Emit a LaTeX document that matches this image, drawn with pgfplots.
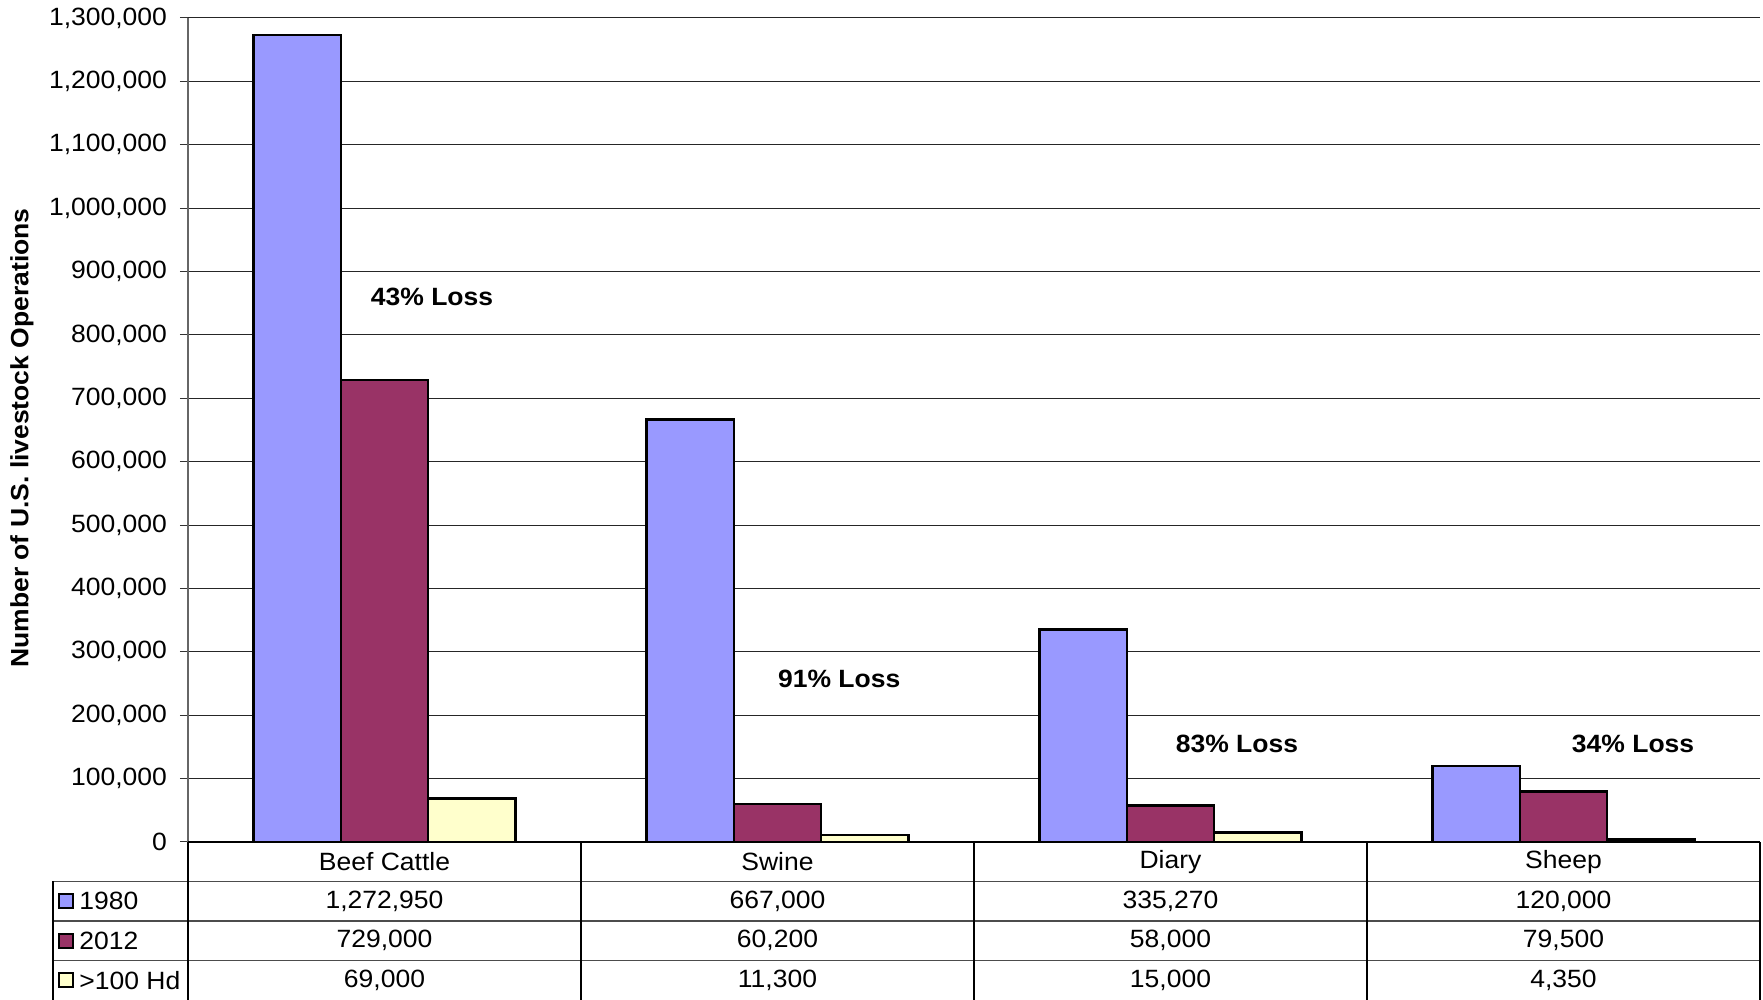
\documentclass[border=0pt]{standalone}
\usepackage{pgfplots}
\pgfplotsset{compat=1.18}
\usepackage{fontspec}
\setmainfont{Liberation Sans}[FakeStretch=1.06]
\definecolor{c1980}{HTML}{9999FF}
\definecolor{c2012}{HTML}{993366}
\definecolor{chd}{HTML}{FFFFCC}
\newcommand\fs{\fontsize{12.5}{15}\selectfont}
\begin{document}
\begin{tikzpicture}
\begin{axis}[
  scale only axis, width=786pt, height=412pt,
  xmin=-0.5, xmax=3.5, ymin=0, ymax=1300000,
  ybar=0pt, bar width=0.2222,
  axis x line=none, axis y line*=left,
  ytick distance=100000, scaled y ticks=false,
  yticklabel={\pgfmathprintnumber[fixed,1000 sep={,},assume math mode=true]{\tick}},
  yticklabel style={font=\fs, xshift=-3pt},
  ymajorgrids, grid style={black!85, line width=0.5pt},
  tick align=outside, major tick length=4pt,
  ytick style={black!80, line width=0.5pt},
  y axis line style={black!60, line width=0.6pt},
  xtick=\empty,
  clip=false,
]
\addplot[fill=c1980, draw=black, line width=1.3pt] coordinates {(0,1272950) (1,667000) (2,335270) (3,120000)};
\addplot[fill=c2012, draw=black, line width=1.3pt] coordinates {(0,729000) (1,60200) (2,58000) (3,79500)};
\addplot[fill=chd, draw=black, line width=1.3pt] coordinates {(0,69000) (1,11300) (2,15000) (3,4350)};
\node[font=\fs\bfseries] at (axis cs:0.121,859800) {43\% Loss};
\node[font=\fs\bfseries] at (axis cs:1.157,257200) {91\% Loss};
\node[font=\fs\bfseries] at (axis cs:2.169,154600) {83\% Loss};
\node[font=\fs\bfseries] at (axis cs:3.177,154600) {34\% Loss};
\coordinate (O) at (rel axis cs:0,0);
\end{axis}
\begin{scope}[shift={(O)}, x=1pt, y=1pt]
  % horizontal lines
  \draw[black, line width=0.6pt] (0,0) -- (786,0);
  \draw[black!70, line width=0.6pt] (-67.5,-19.75) -- (786,-19.75);
  \draw[black!70, line width=0.6pt] (-67.5,-39.5) -- (786,-39.5);
  \draw[black!70, line width=0.6pt] (-67.5,-59.25) -- (786,-59.25);
  % vertical lines
  \foreach \xx in {0,196.5,393,589.5,786} \draw[black, line width=0.6pt] (\xx,0) -- (\xx,-79);
  \draw[black, line width=0.6pt] (-67.5,-19.75) -- (-67.5,-79);
  % category names
  \foreach \nm [count=\i from 0] in {Beef Cattle,Swine,Diary,Sheep}
    \node[font=\fs] at (98.25+196.5*\i,-9.875) {\nm};
  % legend keys
  \filldraw[fill=c1980, draw=black, line width=0.9pt] (-64.5,-26.1) rectangle (-57.5,-33.1);
  \filldraw[fill=c2012, draw=black, line width=0.9pt] (-64.5,-45.9) rectangle (-57.5,-52.9);
  \filldraw[fill=chd, draw=black, line width=0.9pt] (-64.5,-65.6) rectangle (-57.5,-72.6);
  \node[font=\fs, anchor=west, inner sep=0pt] at (-54.5,-29.6) {1980};
  \node[font=\fs, anchor=west, inner sep=0pt] at (-54.5,-49.4) {2012};
  \node[font=\fs, anchor=west, inner sep=0pt] at (-54.5,-69.1) {>100 Hd};
  % values
  \foreach \v [count=\i from 0] in {{1,272,950},{667,000},{335,270},{120,000}}
    \node[font=\fs] at (98.25+196.5*\i,-29.625) {\v};
  \foreach \v [count=\i from 0] in {{729,000},{60,200},{58,000},{79,500}}
    \node[font=\fs] at (98.25+196.5*\i,-49.375) {\v};
  \foreach \v [count=\i from 0] in {{69,000},{11,300},{15,000},{4,350}}
    \node[font=\fs] at (98.25+196.5*\i,-69.125) {\v};
  % y label
  \node[font=\fs\bfseries, rotate=90] at (-83,202) {Number of U.S. livestock Operations};
  \pgfresetboundingbox
  \path[use as bounding box] (-94,-79) rectangle (787.5,421);
\end{scope}
\end{tikzpicture}
\end{document}
